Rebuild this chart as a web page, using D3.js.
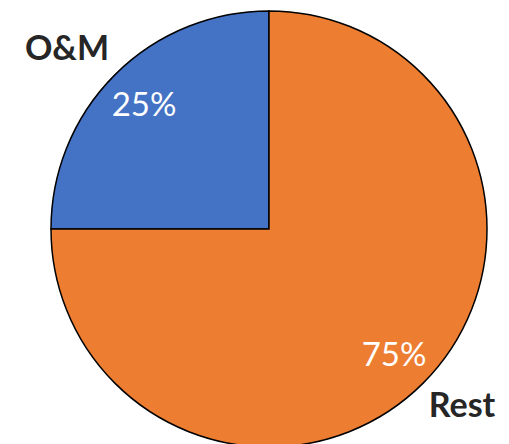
<!DOCTYPE html>
<html><head><meta charset="utf-8">
<script src="https://cdn.jsdelivr.net/npm/d3@7"></script>
<style>body{margin:0;background:#fff}</style>
</head><body>
<svg id="c" width="509" height="444"></svg>
<script>
const categories = ["O&M", "Rest"];
const values = [25, 75];
const colors = ["#4472C4", "#ED7D31"];

const svg = d3.select("#c");
const cx = 269, cy = 229, r = 218;
const pie = d3.pie().sort(null).value(d => d)
  .startAngle(-Math.PI / 2).endAngle(1.5 * Math.PI)(values);
const arc = d3.arc().innerRadius(0).outerRadius(r);
const g = svg.append("g").attr("transform", `translate(${cx},${cy})`);
g.selectAll("path").data(pie).join("path")
  .attr("d", arc)
  .attr("fill", (d, i) => colors[i])
  .attr("stroke", "#000").attr("stroke-width", 1.5).attr("stroke-linejoin","miter");

const total = d3.sum(values);
const pctPos = [[144, 116], [394, 366]];
const catPos = [[67, 60], [462, 417]];
svg.selectAll("text.pct").data(values).join("text").attr("class","pct")
  .attr("x", (d,i) => pctPos[i][0]).attr("y", (d,i) => pctPos[i][1])
  .attr("text-anchor","middle").attr("fill","#fff")
  .attr("font-family","Lato, 'Open Sans', sans-serif").attr("font-size", 33)
  .text(d => Math.round(d / total * 100) + "%");
svg.selectAll("text.cat").data(categories).join("text").attr("class","cat")
  .attr("x", (d,i) => catPos[i][0]).attr("y", (d,i) => catPos[i][1])
  .attr("text-anchor","middle").attr("fill","#262626").attr("font-weight","bold")
  .attr("font-family","Lato, 'Open Sans', sans-serif").attr("font-size", 34)
  .text(d => d);
</script>
</body></html>
